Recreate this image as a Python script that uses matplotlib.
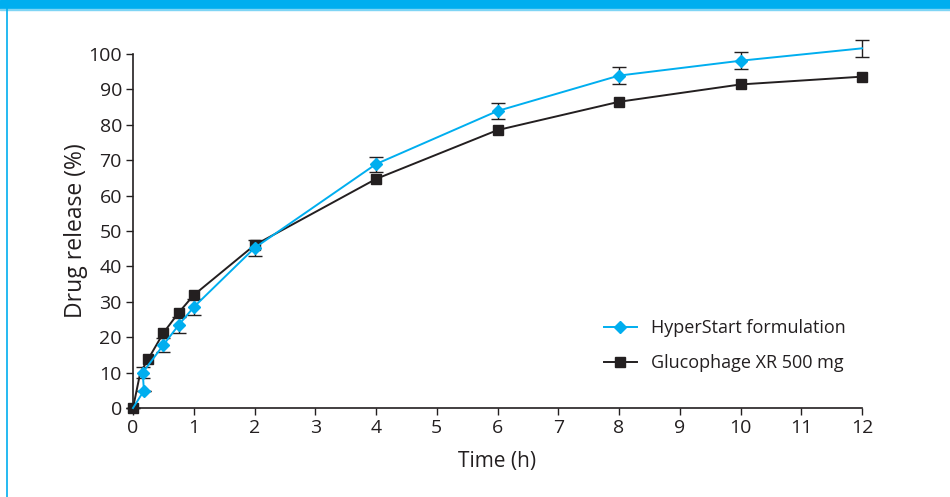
import matplotlib.pyplot as plt
from matplotlib.patches import Rectangle
from matplotlib.lines import Line2D

BLUE = "#00aeef"
DARK = "#231f20"

# HyperStart formulation (mean, with error bars)
hyper_t = [0, 0.18, 0.16, 0.5, 0.75, 1, 2, 4, 6, 8, 10, 12]
hyper_y = [0, 4.9, 10.0, 17.8, 23.4, 28.5, 45.2, 68.9, 83.9, 93.9, 98.1, 101.6]
hyper_err = [0, 0, 1.6, 1.9, 2.3, 2.2, 2.3, 2.1, 2.2, 2.4, 2.4, 2.4]

# Glucophage XR 500 mg
gluco_t = [0, 0.12, 0.25, 0.5, 0.75, 1, 2, 4, 6, 8, 10, 12]
gluco_y = [0, 10.0, 13.8, 21.2, 26.9, 31.9, 46.0, 64.7, 78.5, 86.5, 91.4, 93.6]

x_ticks = list(range(0, 13))
y_ticks = list(range(0, 101, 10))


def plot():
    plt.rcParams["font.family"] = ["Open Sans", "DejaVu Sans"]
    fig = plt.figure(figsize=(9.5, 4.97), dpi=100)

    # page decoration: blue header band and left rule
    fig.patches.append(Rectangle((0, 1 - 8 / 497), 1, 8 / 497, transform=fig.transFigure,
                                 color=BLUE, zorder=0))
    fig.patches.append(Rectangle((0, 1 - 10 / 497), 1, 1.5 / 497, transform=fig.transFigure,
                                 color="#7fd5f5", zorder=0))
    fig.lines.append(Line2D([6.5 / 950, 6.5 / 950], [0, 1], transform=fig.transFigure,
                            color=BLUE, lw=1.2))

    ax = fig.add_axes([133 / 950, 1 - 408 / 497, 729 / 950, 354 / 497])

    ax.errorbar(hyper_t, hyper_y, yerr=hyper_err, fmt="none", ecolor=DARK,
                elinewidth=1, capsize=5, capthick=1, zorder=2, clip_on=False)
    ax.plot(gluco_t, gluco_y, color=DARK, lw=1.4, marker="s", markersize=6.5,
            markevery=[0] + list(range(2, len(gluco_t))),
            label="Glucophage XR 500 mg", zorder=3, clip_on=False)
    ax.plot(hyper_t, hyper_y, color=BLUE, lw=1.4, marker="D", markersize=6,
            markevery=list(range(1, len(hyper_t) - 1)),
            label="HyperStart formulation", zorder=4, clip_on=False)

    ax.set_xlim(0, 12)
    ax.set_ylim(0, 100)
    ax.set_xticks(x_ticks)
    ax.set_yticks(y_ticks)
    ax.spines["top"].set_visible(False)
    ax.spines["right"].set_visible(False)
    for s in ("left", "bottom"):
        ax.spines[s].set_color(DARK)
        ax.spines[s].set_linewidth(1.2)
    ax.tick_params(direction="out", length=5, width=1, colors=DARK, labelsize=14,
                   labelcolor=DARK, pad=3)

    ax.set_xlabel("Time (h)", fontsize=15, color=DARK, labelpad=10)
    ax.set_ylabel("Drug release (%)", fontsize=16.5, color=DARK, labelpad=0)

    handles, labels = ax.get_legend_handles_labels()
    ax.legend(handles[::-1], labels[::-1], loc="lower right", bbox_to_anchor=(1.0, 0.055),
              frameon=False, fontsize=13, handlelength=1.8, labelspacing=0.95,
              labelcolor=DARK)

    plt.savefig("out.png", dpi=100)


def main():
    plot()


if __name__ == '__main__':
    main()
